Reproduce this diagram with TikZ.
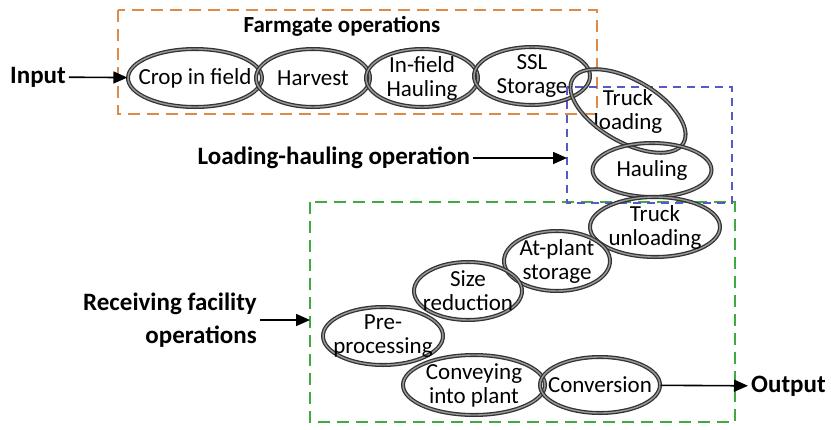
\documentclass[tikz,border=0pt]{standalone}
\usepackage{fontspec}
\setmainfont{Carlito}
\usetikzlibrary{arrows.meta,shapes.geometric}
\definecolor{farmorange}{RGB}{222,139,72}
\definecolor{haulblue}{RGB}{88,88,200}
\definecolor{plantgreen}{RGB}{64,170,64}

\begin{document}
\begin{tikzpicture}[
  x=1pt,y=-1pt,
  ring/.style={draw=black!80,double=black!40,double distance=1.4pt,line width=1.3pt},
  op/.style={ellipse,ring,align=center,inner xsep=-30pt,inner ysep=-14pt,font=\fontsize{23}{24}\selectfont},
  txt/.style={align=center,inner sep=0pt,font=\fontsize{23}{24}\selectfont},
  lbl/.style={font=\fontsize{25}{33}\selectfont\bfseries,inner sep=3pt},
  grp/.style={line width=1.6pt,dash pattern=on 12pt off 7pt},
  arr/.style={-{Triangle[length=14pt,width=12pt]},line width=1.6pt}
]
\useasboundingbox (0,0) rectangle (831,429);

% group boxes
\draw[grp,farmorange] (118,10) rectangle (597,114);
\draw[grp,plantgreen] (310,202) rectangle (735,422);
\draw[grp,haulblue,dash pattern=on 8pt off 6pt] (567,87) rectangle (732,203);
\node[lbl,font=\fontsize{23}{30}\selectfont\bfseries] (farm) at (342,26) {Farmgate operations};

% farmgate
\node[op,minimum width=134pt,minimum height=58pt] (crop) at (195,78) {Crop in field};
\node[op,minimum width=114pt,minimum height=58pt] (harvest) at (313,78) {Harvest};
\node[op,minimum width=112pt,minimum height=58pt] (infield) at (422,78) {In-field\\Hauling};
\node[op,minimum width=116pt,minimum height=58pt] (ssl) at (532,76) {SSL\\Storage};

% loading-hauling
\node[txt] (tload) at (628,111) {Truck\\loading};
\draw[ring,rotate around={-30:(tload.center)}] (tload.center) ellipse [x radius=64pt,y radius=31pt];
\node[op,minimum width=119pt,minimum height=54pt] (haul) at (652,170) {Hauling};

% receiving facility
\node[op,minimum width=130pt,minimum height=60pt] (tunload) at (655,227) {Truck\\unloading};
\node[op,minimum width=106pt,minimum height=60pt] (atplant) at (557,261) {At-plant\\storage};
\node[op,minimum width=108pt,minimum height=58pt] (size) at (468,291) {Size\\reduction};
\node[op,minimum width=120pt,minimum height=58pt] (pre) at (383,336) {Pre-\\processing};
\node[op,minimum width=142pt,minimum height=60pt] (convey) at (474,385) {Conveying\\into plant};
\node[op,minimum width=120pt,minimum height=56pt] (conv) at (600,385) {Conversion};

% side labels
\node[lbl] (input) at (38,77) {Input};
\draw[arr] (input) -- (crop);
\node[lbl,anchor=east] (load) at (473,158) {Loading-hauling operation};
\coordinate (blueW) at (567,158);
\draw[arr] (load) -- (blueW);
\node[lbl,align=right,anchor=east] (recv) at (260,320) {Receiving facility\\operations};
\coordinate (greenW) at (310,320);
\draw[arr] (recv) -- (greenW);
\node[lbl,anchor=west] (output) at (748,386) {Output};
\draw[arr] (conv) -- (output);
\end{tikzpicture}
\end{document}
